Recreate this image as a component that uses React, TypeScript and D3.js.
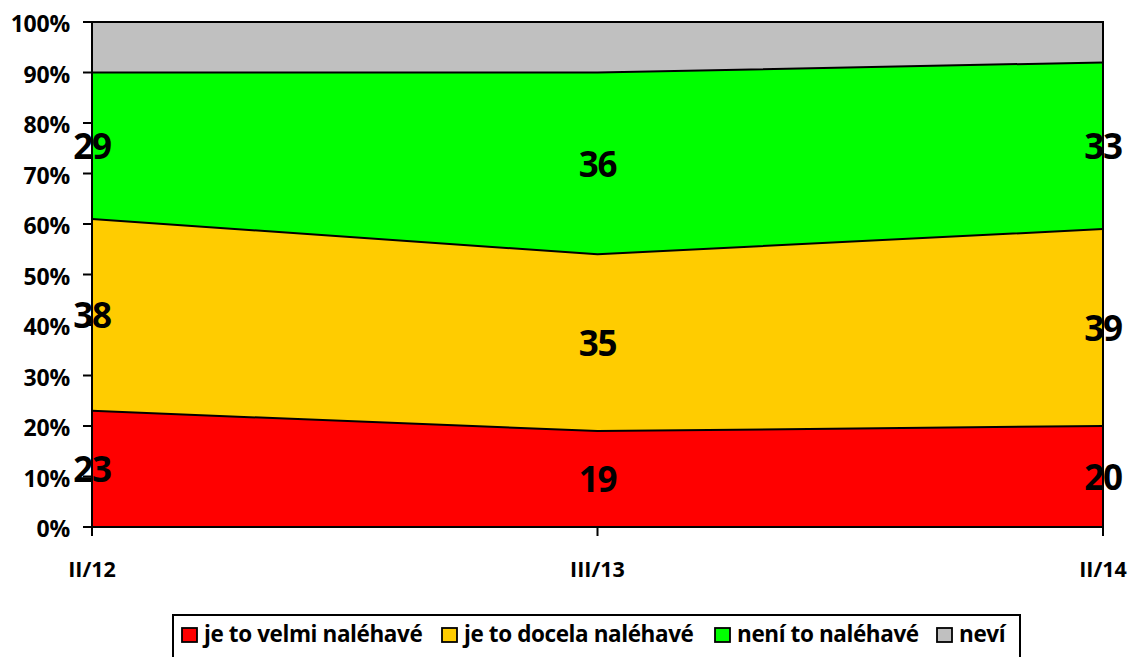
import React from 'react';
import * as d3 from 'd3';

// Data
const periods = ['II/12', 'III/13', 'II/14'];
const seriesNames = ['je to velmi naléhavé', 'je to docela naléhavé', 'není to naléhavé', 'neví'];
const velmi = [23, 19, 20];
const docela = [38, 35, 39];
const neni = [29, 36, 33];
const nevi = [10, 10, 8];
const colors = ['#ff0000', '#ffcc00', '#00ff00', '#c0c0c0'];
const yTicks = [0, 10, 20, 30, 40, 50, 60, 70, 80, 90, 100];

const FONT = "'Open Sans', 'Liberation Sans', Arial, sans-serif";

const App = () => {
  const width = 1133;
  const height = 657;
  const margin = { left: 92, right: 30, top: 22, bottom: 130 };
  const x0 = margin.left;
  const x1 = width - margin.right;
  const y0 = height - margin.bottom;
  const y1 = margin.top;

  const rows = periods.map((p, i) => ({ p, a: velmi[i], b: docela[i], c: neni[i], d: nevi[i] }));
  const stack = d3.stack<any>().keys(['a', 'b', 'c', 'd']);
  const layers = stack(rows);

  const x = d3.scalePoint().domain(periods).range([x0, x1]);
  const y = d3.scaleLinear().domain([0, 100]).range([y0, y1]);

  const area = d3.area<any>()
    .x(d => x(d.data.p) as number)
    .y0(d => y(d[0]))
    .y1(d => y(d[1]));
  const topLine = d3.line<any>()
    .x(d => x(d.data.p) as number)
    .y(d => y(d[1]));

  // legend layout
  const legendX = 173;
  const legendY = 615;
  const legendR = 1020;
  const markerX = [182, 442, 715, 937];
  const legendItems = seriesNames.map((n, i) => ({ n, pos: markerX[i], c: colors[i] }));

  return (
    <svg width={width} height={height} style={{ position: 'absolute', left: 0, top: 0 }}>
      <rect width={width} height={height} fill="#fff" />
      {layers.map((layer, i) => (
        <path key={'a' + i} d={area(layer as any) || ''} fill={colors[i]} />
      ))}
      {layers.slice(0, 3).map((layer, i) => (
        <path key={'l' + i} d={topLine(layer as any) || ''} fill="none" stroke="#000" strokeWidth={2} />
      ))}
      <rect x={x0} y={y1} width={x1 - x0} height={y0 - y1} fill="none" stroke="#000" strokeWidth={2} />

      {/* y axis */}
      {yTicks.map(t => (
        <g key={'y' + t}>
          <line x1={x0 - 9} x2={x0} y1={y(t)} y2={y(t)} stroke="#000" strokeWidth={2} />
          <text x={70} y={y(t) + 2} dy="0.35em" textAnchor="end" fontFamily={FONT} fontWeight="bold" fontSize={23}
            letterSpacing={-0.2}>
            {t + '%'}
          </text>
        </g>
      ))}

      {/* x axis */}
      {periods.map(p => (
        <g key={'x' + p}>
          <line x1={x(p)} x2={x(p)} y1={y0} y2={y0 + 9} stroke="#000" strokeWidth={2} />
          <text x={x(p)} y={577} textAnchor="middle" fontFamily={FONT} fontWeight="bold" fontSize={21.5}>
            {p}
          </text>
        </g>
      ))}

      {/* data labels */}
      {layers.slice(0, 3).map((layer, i) =>
        layer.map((d: any, j) => (
          <text key={'v' + i + j} x={x(d.data.p)} y={y((d[0] + d[1]) / 2) + 1} dy="0.35em" textAnchor="middle"
            fontFamily={FONT} fontWeight="bold" fontSize={35} letterSpacing={-1.2}>
            {d[1] - d[0]}
          </text>
        ))
      )}

      {/* legend */}
      <rect x={legendX} y={legendY} width={legendR - legendX} height={60} fill="#fff" stroke="#000" strokeWidth={2} />
      {legendItems.map(it => (
        <g key={it.n}>
          <rect x={it.pos} y={legendY + 13} width={15} height={14} fill={it.c} stroke="#000" strokeWidth={1.8} />
          <text x={it.pos + 22} y={legendY + 27} fontFamily={FONT} fontWeight="bold" fontSize={22.5}
            letterSpacing={-0.4}>
            {it.n}
          </text>
        </g>
      ))}
    </svg>
  );
};

export default App;
